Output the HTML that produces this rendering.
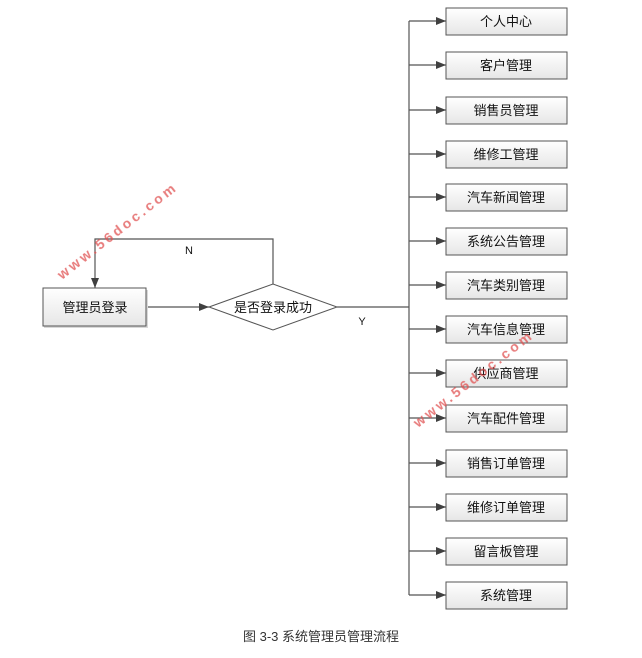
<!DOCTYPE html>
<html><head><meta charset="utf-8"><style>
body{margin:0;background:#fff;}
svg text{font-family:"Liberation Sans","Noto Sans CJK SC",sans-serif;}
</style></head><body>
<svg width="642" height="653" viewBox="0 0 642 653" xmlns="http://www.w3.org/2000/svg">
<defs>
<linearGradient id="g" x1="0" y1="0" x2="0" y2="1"><stop offset="0" stop-color="#ffffff"/><stop offset="1" stop-color="#e6e6e6"/></linearGradient>
<marker id="a" markerWidth="10" markerHeight="8" refX="10" refY="4" orient="auto" markerUnits="userSpaceOnUse"><path d="M0,0 L10,4 L0,8 z" fill="#404040"/></marker>
</defs>
<g stroke="#555" stroke-width="1.2" fill="none">
<line x1="409" y1="21" x2="409" y2="595"/>
<line x1="337" y1="307" x2="409" y2="307"/>
<line x1="146" y1="307" x2="209" y2="307" marker-end="url(#a)"/>
<polyline points="273,284 273,239 95,239 95,288" marker-end="url(#a)"/>
</g>
<g stroke="#555" stroke-width="1.2" marker-end="url(#a)">
<line x1="409" y1="21" x2="446" y2="21"/>
<line x1="409" y1="65" x2="446" y2="65"/>
<line x1="409" y1="110" x2="446" y2="110"/>
<line x1="409" y1="154" x2="446" y2="154"/>
<line x1="409" y1="197" x2="446" y2="197"/>
<line x1="409" y1="241" x2="446" y2="241"/>
<line x1="409" y1="285" x2="446" y2="285"/>
<line x1="409" y1="329" x2="446" y2="329"/>
<line x1="409" y1="373" x2="446" y2="373"/>
<line x1="409" y1="418" x2="446" y2="418"/>
<line x1="409" y1="463" x2="446" y2="463"/>
<line x1="409" y1="507" x2="446" y2="507"/>
<line x1="409" y1="551" x2="446" y2="551"/>
<line x1="409" y1="595" x2="446" y2="595"/>
</g>
<g fill="#d8d8d8">
<rect x="44" y="290" width="104" height="38"/>
</g>
<rect x="43" y="288" width="103" height="38" fill="url(#g)" stroke="#555"/>
<polygon points="209,307 273,284 337,307 273,330" fill="#fff" stroke="#555"/>
<g stroke="#555" fill="url(#g)">
<rect x="446" y="8" width="121" height="27"/>
<rect x="446" y="52" width="121" height="27"/>
<rect x="446" y="97" width="121" height="27"/>
<rect x="446" y="141" width="121" height="27"/>
<rect x="446" y="184" width="121" height="27"/>
<rect x="446" y="228" width="121" height="27"/>
<rect x="446" y="272" width="121" height="27"/>
<rect x="446" y="316" width="121" height="27"/>
<rect x="446" y="360" width="121" height="27"/>
<rect x="446" y="405" width="121" height="27"/>
<rect x="446" y="450" width="121" height="27"/>
<rect x="446" y="494" width="121" height="27"/>
<rect x="446" y="538" width="121" height="27"/>
<rect x="446" y="582" width="121" height="27"/>
</g>
<g font-size="13" text-anchor="middle" fill="#111">
<text x="506" y="26">个人中心</text>
<text x="506" y="70">客户管理</text>
<text x="506" y="115">销售员管理</text>
<text x="506" y="159">维修工管理</text>
<text x="506" y="202">汽车新闻管理</text>
<text x="506" y="246">系统公告管理</text>
<text x="506" y="290">汽车类别管理</text>
<text x="506" y="334">汽车信息管理</text>
<text x="506" y="378">供应商管理</text>
<text x="506" y="423">汽车配件管理</text>
<text x="506" y="468">销售订单管理</text>
<text x="506" y="512">维修订单管理</text>
<text x="506" y="556">留言板管理</text>
<text x="506" y="600">系统管理</text>
<text x="95" y="312">管理员登录</text>
<text x="273" y="312">是否登录成功</text>
</g>
<text x="189" y="254" font-size="11" text-anchor="middle" fill="#111">N</text>
<text x="362" y="325" font-size="11" text-anchor="middle" fill="#111">Y</text>
<text x="321" y="641" font-size="13" text-anchor="middle" fill="#333">图 3-3 系统管理员管理流程</text>
<g fill="#e05050" opacity="0.75" font-size="14" font-weight="bold">
<text transform="translate(62,280) rotate(-38)" letter-spacing="3">www.56doc.com</text>
<text transform="translate(418,428) rotate(-38)" letter-spacing="3">www.56doc.com</text>
</g>
</svg>
</body></html>
